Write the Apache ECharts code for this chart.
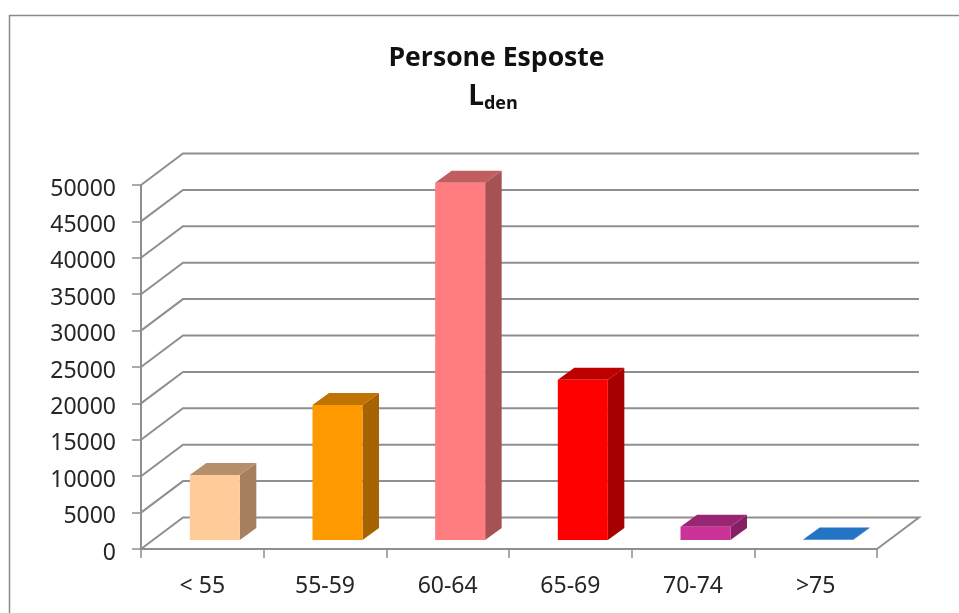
<!DOCTYPE html>
<html><head><meta charset="utf-8">
<style>html,body{margin:0;padding:0;background:#fff}#c{width:959px;height:613px}</style>
<script src="https://cdn.jsdelivr.net/npm/echarts@6/dist/echarts.min.js"></script>
</head><body><div id="c"></div>
<script>
const categories = ['< 55','55-59','60-64','65-69','70-74','>75'];
const values = [8930,18540,49080,22000,1830,60];
const yTicks = [0,5000,10000,15000,20000,25000,30000,35000,40000,45000,50000];
const frontColors = ['#FFCC99','#FF9900','#FF7C80','#FF0000','#CC3399','#2E7FD0'];
const sideColors  = ['#A67F5F','#A66300','#A65153','#A60000','#852163','#1F5F9F'];
const topColors   = ['#B58F6A','#BF7300','#BF5D60','#BF0000','#992673','#2474C6'];

const WALL_DX = 42, WALL_DY = -31.5, LINE = '#8f8f8f', TEXT = '#262626';
const BAR_W = 50, BAR_DX = 16.5, BAR_DY = -12, BASE_DX = 12.5, BASE_DY = -9;
const FONT = '"Noto Sans", sans-serif';

const chart = echarts.init(document.getElementById('c'), null, {renderer:'canvas'});
chart.setOption({
  animation:false,
  backgroundColor:'#fff',
  title:[
    {text:'Persone Esposte',left:491.5,top:40,textAlign:'center',
     textStyle:{fontFamily:'"Open Sans"',fontSize:26.6,fontWeight:'bold',color:'#111'}},
    {text:'{l|L}{s|den}',left:488,top:76,textAlign:'center',
     textStyle:{rich:{
       l:{fontFamily:'"Open Sans"',fontSize:28,fontWeight:'bold',color:'#111'},
       s:{fontFamily:'"Open Sans"',fontSize:18,fontWeight:'bold',color:'#111',padding:[14,0,0,0]}
     }}}
  ],
  grid:{left:141,top:185,width:736,height:364,containLabel:false},
  xAxis:{type:'category',data:categories,
    axisLine:{lineStyle:{color:LINE,width:2}},
    axisTick:{show:true,length:9,alignWithLabel:false,lineStyle:{color:LINE,width:1.5}},
    axisLabel:{margin:26,fontFamily:FONT,fontSize:23,color:TEXT,interval:0},
    splitLine:{show:false}},
  yAxis:{type:'value',min:0,max:50000,interval:5000,
    axisLine:{show:true,lineStyle:{color:LINE,width:2}},
    axisTick:{show:true,length:9,lineStyle:{color:LINE,width:1.5}},
    axisLabel:{margin:25,fontFamily:FONT,fontSize:23,color:TEXT,verticalAlign:'top',lineHeight:8,
      formatter:v=>String(v)},
    splitLine:{show:false}},
  graphic:[{type:'polyline',silent:true,z:-1,
    shape:{points:[[9.5,613],[9.5,15.5],[959,15.5]]},
    style:{stroke:'#8a8a8a',lineWidth:1.5,fill:null}}],
  series:[
    {type:'custom',z:1,silent:true,coordinateSystem:'cartesian2d',clip:false,
     data:yTicks.map(v=>[0,v]),encode:{x:0,y:1},
     renderItem(params,api){
       const cs=params.coordSys, y=api.coord([0,api.value(1)])[1];
       const x0=cs.x,x1=cs.x+cs.width;
       const pts=[[x0,y],[x0+WALL_DX,y+WALL_DY],[x1+WALL_DX,y+WALL_DY]];
       if(api.value(1)===0) pts.push([x1,y]);
       return {type:'polyline',shape:{points:pts},
         style:{stroke:LINE,lineWidth:2,fill:null}};
     }},
    {type:'custom',z:3,silent:true,coordinateSystem:'cartesian2d',clip:false,
     data:values.map((v,i)=>[i,v]),encode:{x:0,y:1},
     renderItem(params,api){
       const i=api.value(0);
       const cx=api.coord([i,0])[0]+BASE_DX;
       const y0=api.coord([i,0])[1]+BASE_DY;
       const yt=api.coord([i,api.value(1)])[1]+BASE_DY;
       const l=cx-BAR_W/2,r=cx+BAR_W/2;
       return {type:'group',children:[
         {type:'polygon',shape:{points:[[r,y0],[r+BAR_DX,y0+BAR_DY],[r+BAR_DX,yt+BAR_DY],[r,yt]]},
          style:{fill:sideColors[i]}},
         {type:'polygon',shape:{points:[[l,yt],[l+BAR_DX,yt+BAR_DY],[r+BAR_DX,yt+BAR_DY],[r,yt]]},
          style:{fill:topColors[i]}},
         {type:'rect',shape:{x:l,y:yt,width:BAR_W,height:y0-yt},
          style:{fill:frontColors[i]}}
       ]};
     }}
  ]
});
</script></body></html>
